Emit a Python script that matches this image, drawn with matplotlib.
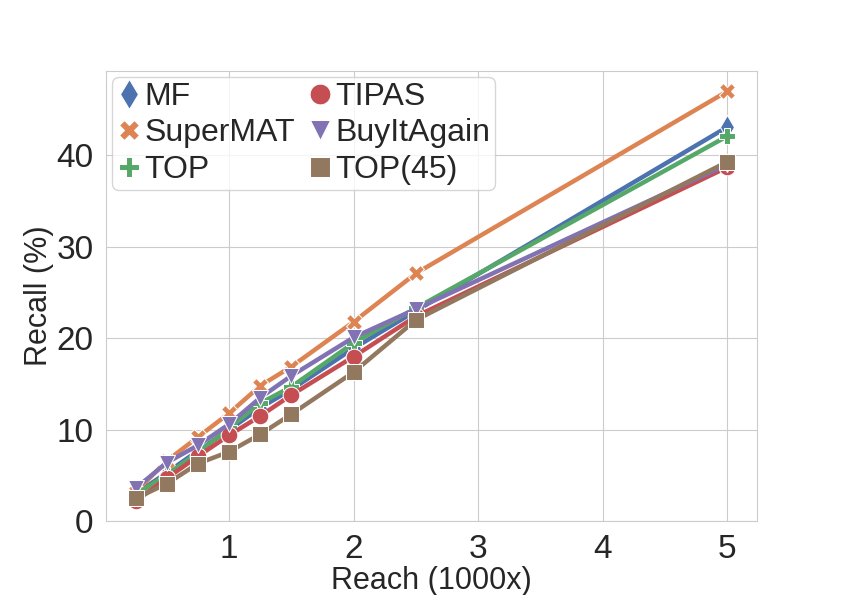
import matplotlib
matplotlib.use("Agg")
import matplotlib.pyplot as plt
import seaborn as sns
from matplotlib.lines import Line2D

sns.set_style("whitegrid")
plt.rcParams['font.family'] = ['Liberation Sans', 'DejaVu Sans']

reach = [0.25, 0.5, 0.75, 1, 1.25, 1.5, 2, 2.5, 5]
series_names = ["MF", "SuperMAT", "TOP", "TIPAS", "BuyItAgain", "TOP(45)"]
mf = [3.0, 5.3, 7.7, 10.0, 12.4, 14.4, 18.9, 23.0, 43.1]
supermat = [3.2, 6.6, 9.2, 11.8, 14.8, 16.9, 21.8, 27.1, 47.0]
top = [2.9, 5.1, 7.5, 10.2, 12.9, 14.7, 19.5, 23.3, 42.1]
tipas = [2.2, 4.7, 7.1, 9.4, 11.5, 13.8, 18.0, 22.4, 38.7]
buyitagain = [3.6, 6.4, 8.3, 10.6, 13.5, 15.9, 20.1, 23.2, 39.0]
top45 = [2.5, 4.1, 6.3, 7.6, 9.5, 11.7, 16.3, 22.0, 39.3]

values = [mf, supermat, top, tipas, buyitagain, top45]
markers = ['d', 'X', 'P', 'o', 'v', 's']
colors = sns.color_palette("deep", 6)

fig = plt.figure(figsize=(8.42, 5.95), dpi=100)
ax = fig.add_axes([0.126, 0.124, 0.773, 0.757])

for name, vals, m, c in zip(series_names, values, markers, colors):
    ax.plot(reach, vals, color=c, lw=3.2, marker=m, markersize=12,
            markeredgecolor='white', markeredgewidth=0.75, label=name)

ax.set_ylim(bottom=0)
ax.tick_params(axis='both', labelsize=24, length=0, pad=9)
ax.set_xlabel("Reach (1000x)", fontsize=22, labelpad=1)
ax.set_ylabel("Recall (%)", fontsize=22, labelpad=2)
for sp in ax.spines.values():
    sp.set_color('0.8')

handles = [Line2D([], [], linestyle='none', marker=m, color=c, markersize=15,
                  markeredgecolor='white', markeredgewidth=0.75)
           for m, c in zip(markers, colors)]
leg = ax.legend(handles, series_names, loc='upper left', ncol=2, fontsize=23,
                handlelength=0.75, handletextpad=0.1, columnspacing=0.4,
                labelspacing=0.2, borderpad=0.15, borderaxespad=0.2,
                frameon=True)
leg.get_frame().set_edgecolor('0.8')

fig.savefig("out.png", dpi=100)
